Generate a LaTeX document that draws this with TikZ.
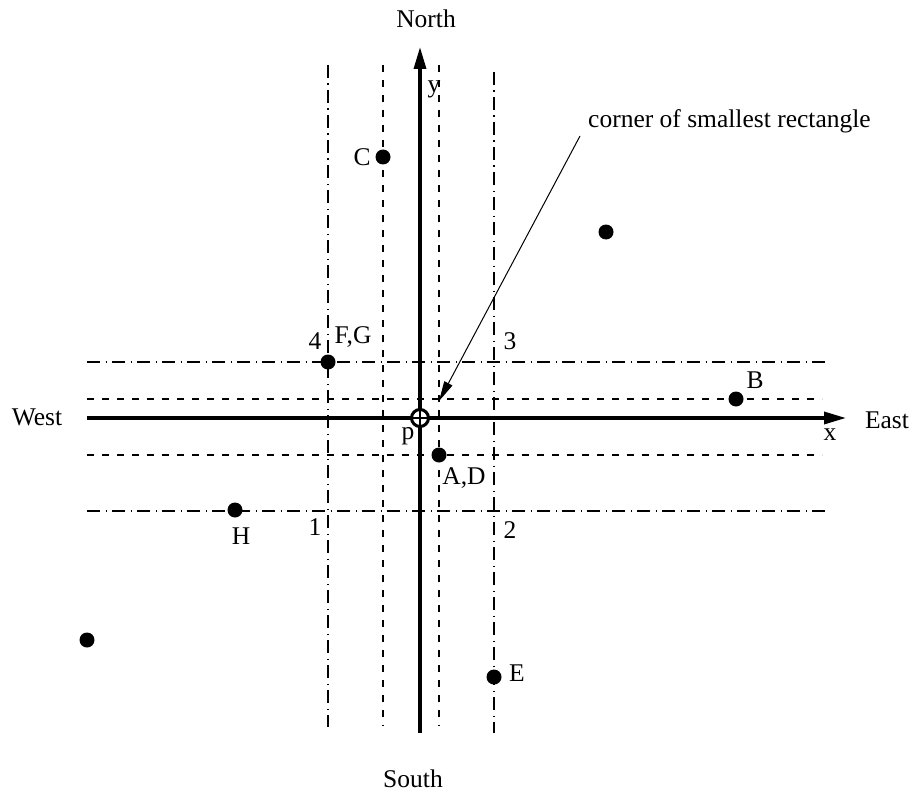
\documentclass[tikz,border=0pt]{standalone}
\usepackage{fontspec}
\setmainfont{Liberation Serif}
\usetikzlibrary{arrows.meta}
\begin{document}
\begin{tikzpicture}[x=1pt,y=-1pt,
  lbl/.style={anchor=base, inner sep=0pt, font=\fontsize{25.5}{30}\selectfont},
  dot/.style={circle, fill=black, minimum size=15pt, inner sep=0pt},
  axisline/.style={line width=3.3pt, -{Triangle[length=22pt,width=12pt]}},
  dashdot/.style={line width=2.7pt, dash pattern=on 13pt off 5.5pt on 1.5pt off 5pt},
  thindash/.style={line width=1.3pt, dash pattern=on 7pt off 8pt},
  pointer/.style={line width=1pt, -{Triangle[length=20pt,width=9pt]}}]
\useasboundingbox (0,0) rectangle (913,797);

% line end points
\coordinate (h1a) at (87,362);  \coordinate (h1b) at (827,362);
\coordinate (h2a) at (87,511);  \coordinate (h2b) at (827,511);
\coordinate (h3a) at (87,399);  \coordinate (h3b) at (822,399);
\coordinate (h4a) at (87,455);  \coordinate (h4b) at (822,455);
\coordinate (v1a) at (328,65);  \coordinate (v1b) at (328,727);
\coordinate (v2a) at (494,72);  \coordinate (v2b) at (494,733);
\coordinate (v3a) at (383,65);  \coordinate (v3b) at (383,726);
\coordinate (v4a) at (439,65);  \coordinate (v4b) at (439,726);
\coordinate (xs) at (87,418);   \coordinate (xe) at (846,418);
\coordinate (ys) at (420,733);  \coordinate (ye) at (420,47);

% dash-dot lines
\draw[dashdot] (h1a) -- (h1b);
\draw[dashdot] (h2a) -- (h2b);
\draw[dashdot] (v1a) -- (v1b);
\draw[dashdot] (v2a) -- (v2b);
% dashed lines
\draw[thindash] (h3a) -- (h3b);
\draw[thindash] (h4a) -- (h4b);
\draw[thindash] (v3a) -- (v3b);
\draw[thindash] (v4a) -- (v4b);

% axes
\draw[axisline] (xs) -- (xe);
\draw[axisline] (ys) -- (ye);

% origin p
\node (p) [circle, draw, fill=white, line width=3pt, minimum size=17pt, inner sep=0pt] at (420,418) {};
\draw[line width=2pt] (p.north) -- (p.south);
\draw[line width=2pt] (p.west) -- (p.east);

% points
\node (C)  [dot] at (383,157) {};
\node (FG) [dot] at (328,362) {};
\node (AD) [dot] at (439,455) {};
\node (UR) [dot] at (606,232) {};
\node (B)  [dot] at (736,399) {};
\node (H)  [dot] at (235,510) {};
\node (BL) [dot] at (87,640) {};
\node (E)  [dot] at (494,677) {};

% labels
\node (north) [lbl] at (426,28) {North};
\node (south) [lbl] at (413,787) {South};
\node (west)  [lbl] at (37,425) {West};
\node (east)  [lbl] at (887,428) {East};
\node (xl) [lbl] at (830,440) {x};
\node (yl) [lbl] at (434,93) {y};
\node (pl) [lbl] at (408,439) {p};
\node (Cl) [lbl] at (362,165) {C};
\node (FGl) [lbl] at (353,343) {F,G};
\node (ADl) [lbl] at (464,484) {A,D};
\node (Bl) [lbl] at (755,388) {B};
\node (Hl) [lbl] at (241,544) {H};
\node (El) [lbl] at (517,681) {E};
\node (n1) [lbl] at (315,535) {1};
\node (n2) [lbl] at (510,538) {2};
\node (n3) [lbl] at (510,349) {3};
\node (n4) [lbl] at (315,349) {4};
\node (corner) [lbl, anchor=base west] at (588,128) {corner of smallest rectangle};

% pointer
\coordinate (cs) at (580,136);
\coordinate (ct) at (439,401);
\draw[pointer] (cs) -- (ct);
\end{tikzpicture}
\end{document}
